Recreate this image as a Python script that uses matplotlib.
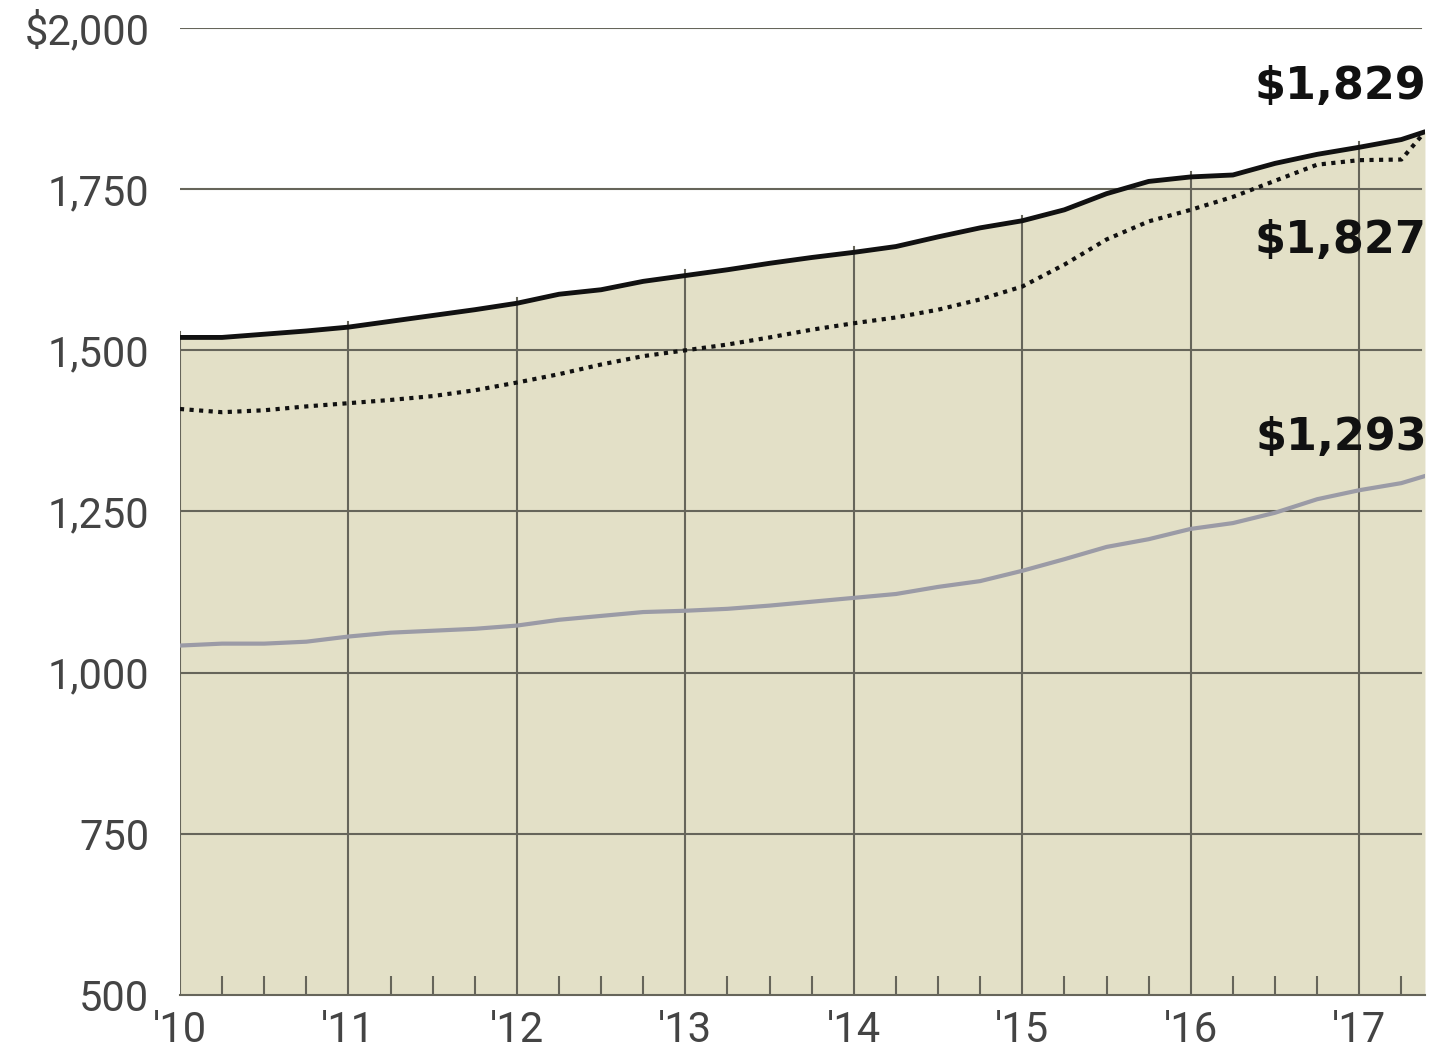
#!/usr/bin/env python3
import numpy as np
import matplotlib
matplotlib.use("Agg")
import matplotlib.pyplot as plt
from matplotlib.ticker import FixedLocator, MultipleLocator

# quarterly sample points, last point is mid-2017
quarters = [2010.0, 2010.25, 2010.5, 2010.75, 2011.0, 2011.25, 2011.5, 2011.75,
            2012.0, 2012.25, 2012.5, 2012.75, 2013.0, 2013.25, 2013.5, 2013.75,
            2014.0, 2014.25, 2014.5, 2014.75, 2015.0, 2015.25, 2015.5, 2015.75,
            2016.0, 2016.25, 2016.5, 2016.75, 2017.0, 2017.25, 2017.39]

top_solid = [1520, 1520, 1525, 1530, 1536, 1545, 1554, 1563,
             1573, 1587, 1594, 1607, 1616, 1625, 1635, 1644,
             1652, 1661, 1676, 1690, 1701, 1718, 1743, 1762,
             1769, 1772, 1790, 1804, 1815, 1827, 1839]

dotted = [1409, 1404, 1407, 1413, 1418, 1423, 1429, 1438,
          1450, 1463, 1478, 1491, 1500, 1509, 1520, 1532,
          1542, 1551, 1563, 1579, 1599, 1633, 1672, 1700,
          1718, 1738, 1763, 1788, 1795, 1796, 1839]

grey = [1042, 1045, 1045, 1048, 1056, 1062, 1065, 1068,
        1073, 1082, 1088, 1094, 1096, 1099, 1104, 1110,
        1116, 1122, 1133, 1142, 1158, 1176, 1195, 1207,
        1223, 1232, 1248, 1269, 1283, 1294, 1305]

years = [2010, 2011, 2012, 2013, 2014, 2015, 2016, 2017]
year_labels = ["'10", "'11", "'12", "'13", "'14", "'15", "'16", "'17"]
y_ticks = [500, 750, 1000, 1250, 1500, 1750, 2000]
y_labels = ["500", "750", "1,000", "1,250", "1,500", "1,750", "$2,000"]
end_labels = ["$1,829", "$1,827", "$1,293"]
end_label_y = [1910, 1670, 1365]

FILL = "#e3e0c7"
GRID = "#66655a"
TICKCOL = "#444444"

fig = plt.figure(figsize=(14.35, 10.57), dpi=100)
ax = fig.add_axes([0.1254, 0.0587, 0.993 - 0.1254, 0.9735 - 0.0587])

x = np.array(quarters)
ax.fill_between(x, 500, top_solid, color=FILL, lw=0, zorder=1)

# vertical year lines stop just above the shaded area
for yr in years:
    top = np.interp(yr, x, top_solid) + 8
    ax.plot([yr, yr], [500, top], color=GRID, lw=1.5, zorder=2)

for yv in y_ticks[1:]:
    ax.axhline(yv, xmin=0, xmax=0.997, color=GRID, lw=1.5, zorder=2)

ax.plot(x, grey, color="#9b9ba6", lw=3, zorder=3)
ax.plot(x, dotted, color="#111111", lw=3, linestyle=(0, (1, 1.3)), zorder=4)
ax.plot(x, top_solid, color="#111111", lw=3.5, zorder=5, solid_capstyle="round")

for lab, yv in zip(end_labels, end_label_y):
    ax.text(2017.40, yv, lab, ha="right", va="center", fontsize=32,
            fontweight="bold", family="DejaVu Sans", color="#111111", zorder=6)

ax.set_xlim(2010, 2017.39)
ax.set_ylim(500, 2000)

for side in ["top", "right", "left"]:
    ax.spines[side].set_visible(False)
ax.spines["bottom"].set_color(GRID)
ax.spines["bottom"].set_linewidth(1.5)
ax.spines["bottom"].set_zorder(6)

ax.xaxis.set_major_locator(FixedLocator(years))
ax.set_xticklabels(year_labels)
ax.xaxis.set_minor_locator(MultipleLocator(0.25))
ax.tick_params(axis="x", which="major", length=0, pad=11)
ax.tick_params(axis="x", which="minor", direction="in", length=14, width=1.5, color=GRID)

ax.yaxis.set_major_locator(FixedLocator(y_ticks))
ax.set_yticklabels(y_labels)
ax.tick_params(axis="y", length=0, pad=22)

for lbl in ax.get_xticklabels() + ax.get_yticklabels():
    lbl.set_family("Roboto")
    lbl.set_fontsize(30)
    lbl.set_color(TICKCOL)

fig.savefig("out.png", dpi=100)
